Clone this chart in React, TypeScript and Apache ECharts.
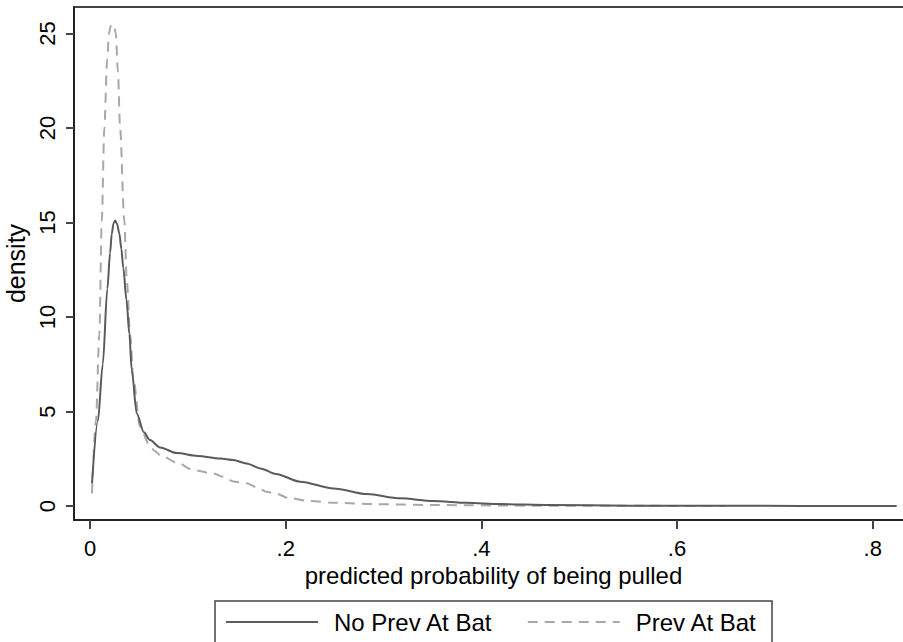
import React, { useEffect, useRef } from "react";
import * as echarts from "echarts";

const seriesNames = ["No Prev At Bat", "Prev At Bat"];

const noPrevX = [0.002, 0.008, 0.013, 0.0177, 0.0205, 0.0222, 0.024, 0.0256, 0.0275, 0.03, 0.032, 0.034, 0.0372, 0.0402, 0.0426, 0.0477, 0.055, 0.0613, 0.0716, 0.0886, 0.11, 0.133, 0.1465, 0.16, 0.174, 0.19, 0.2146, 0.249, 0.283, 0.317, 0.351, 0.385, 0.419, 0.47, 0.55, 0.65, 0.8245];
const noPrevY = [1.2, 4.5, 7.5, 11.5, 13.4, 14.4, 14.95, 15.1, 14.95, 14.4, 13.6, 12.6, 10.9, 9.1, 7.2, 4.9, 3.9, 3.49, 3.1, 2.8, 2.65, 2.52, 2.43, 2.25, 1.99, 1.7, 1.29, 0.93, 0.63, 0.41, 0.26, 0.17, 0.1, 0.05, 0.02, 0.01, 0.0];

const prevX = [0.002, 0.006, 0.0095, 0.012, 0.0146, 0.0175, 0.0194, 0.0211, 0.0228, 0.0245, 0.0263, 0.0285, 0.0307, 0.035, 0.0375, 0.041, 0.0443, 0.0511, 0.06, 0.0664, 0.0716, 0.0886, 0.1056, 0.126, 0.136, 0.1465, 0.16, 0.17, 0.18, 0.19, 0.204, 0.225, 0.249, 0.293, 0.35, 0.45, 0.55, 0.65];
const prevY = [0.67, 4.5, 9.1, 15.1, 20, 23.6, 25, 25.4, 25.5, 25.4, 25, 23, 20, 15.1, 12, 9.1, 6.7, 4.2, 3.3, 2.9, 2.7, 2.3, 1.9, 1.72, 1.55, 1.3, 1.2, 1.0, 0.76, 0.65, 0.41, 0.26, 0.17, 0.1, 0.05, 0.02, 0.01, 0.0];

const xTicks = [0, 0.2, 0.4, 0.6, 0.8];
const yTicks = [0, 5, 10, 15, 20, 25];

const FONT = "'Liberation Sans', Arial, Helvetica, sans-serif";

export default function App() {
  const ref = useRef<HTMLDivElement>(null);
  useEffect(() => {
    if (!ref.current) return;
    const chart = echarts.init(ref.current, null, { renderer: "svg" });
    const pair = (xs: number[], ys: number[]) => xs.map((x, i) => [x, ys[i]]);
    chart.setOption({
      animation: false,
      backgroundColor: "#ffffff",
      textStyle: { fontFamily: FONT },
      grid: {
        left: 74,
        top: 7,
        right: -10,
        bottom: 122,
        outerBoundsMode: "none",
        containLabel: false,
        show: true,
        borderColor: "#444",
        borderWidth: 2,
      },
      xAxis: {
        type: "value",
        min: -0.0164,
        max: 0.8412,
        name: "predicted probability of being pulled",
        nameLocation: "middle",
        nameGap: 42,
        nameTextStyle: { fontSize: 24, color: "#000", fontFamily: FONT },
        axisLine: { show: true, onZero: false, lineStyle: { color: "#222", width: 2 } },
        axisTick: { show: true, length: 9, customValues: xTicks, lineStyle: { color: "#444", width: 2 } },
        axisLabel: {
          customValues: xTicks,
          margin: 17,
          fontSize: 22,
          color: "#000",
          fontFamily: FONT,
          formatter: (v: number) => (v === 0 ? "0" : String(v).replace(/^0/, "")),
        },
        splitLine: { show: false },
      },
      yAxis: {
        type: "value",
        min: -0.74,
        max: 26.4,
        name: "density",
        nameLocation: "middle",
        nameGap: 41,
        nameTextStyle: { fontSize: 25, color: "#000", fontFamily: FONT },
        axisLine: { show: true, onZero: false, lineStyle: { color: "#222", width: 2 } },
        axisTick: { show: true, length: 8, customValues: yTicks, lineStyle: { color: "#444", width: 2 } },
        axisLabel: {
          customValues: yTicks,
          rotate: 90,
          margin: 16,
          fontSize: 22,
          color: "#000",
          fontFamily: FONT,
        },
        splitLine: { show: false },
      },
      legend: {
        left: 225,
        top: 610,
        itemWidth: 92,
        itemHeight: 14,
        itemGap: 34,
        padding: 0,
        itemStyle: { opacity: 0 },
        textStyle: { fontSize: 24, color: "#000", fontFamily: FONT, padding: [0, 0, 0, 11] },
        data: seriesNames,
      },
      graphic: [
        {
          type: "rect",
          shape: { x: 215, y: 601, width: 557, height: 60 },
          style: { fill: "none", stroke: "#444", lineWidth: 1.5 },
          silent: true,
        },
      ],
      series: [
        {
          name: seriesNames[0],
          type: "line",
          data: pair(noPrevX, noPrevY),
          symbol: "none",
          smooth: 0.3,
          smoothMonotone: "x",
          lineStyle: { color: "#5a5a5a", width: 2, type: "solid" },
          itemStyle: { color: "#5a5a5a" },
          z: 3,
        },
        {
          name: seriesNames[1],
          type: "line",
          data: pair(prevX, prevY),
          symbol: "none",
          smooth: 0.3,
          smoothMonotone: "x",
          lineStyle: { color: "#a8a8a8", width: 2, type: [10, 7] },
          itemStyle: { color: "#a8a8a8" },
          z: 2,
        },
      ],
    });
    return () => chart.dispose();
  }, []);
  return (
    <div
      ref={ref}
      style={{ position: "fixed", left: 0, top: 0, width: 903, height: 642, background: "#fff" }}
    />
  );
}
